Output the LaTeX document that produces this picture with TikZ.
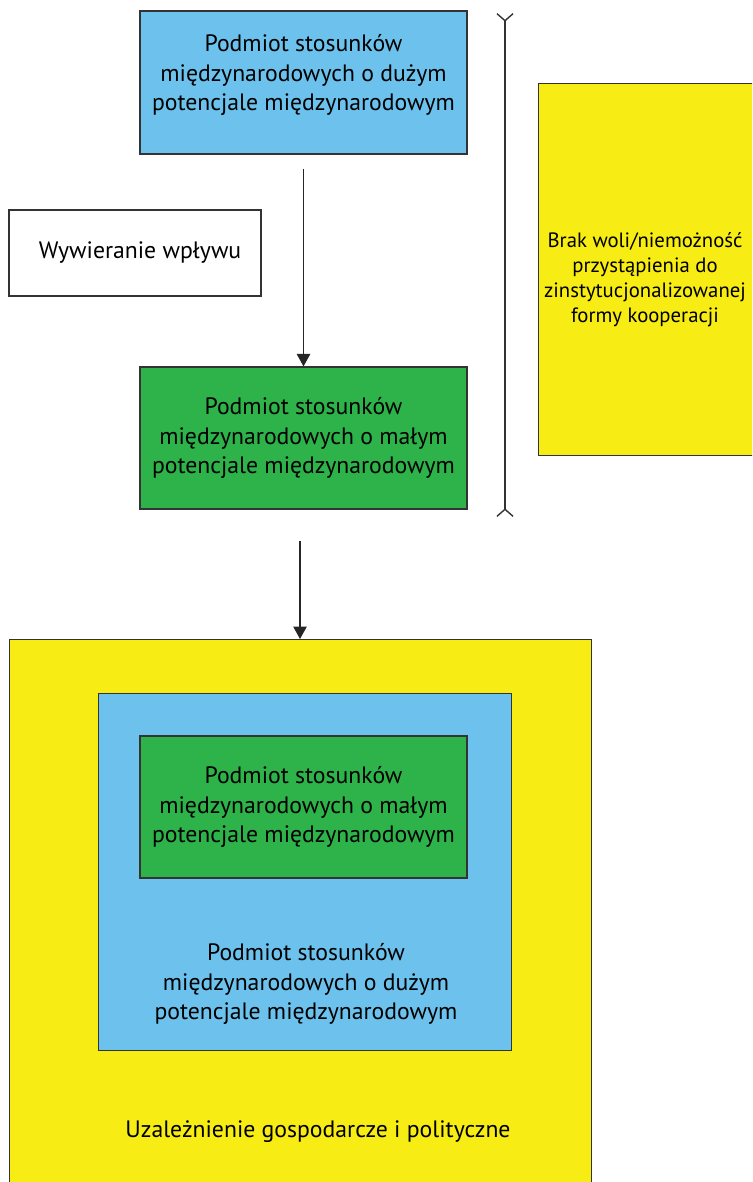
\documentclass[tikz,border=0pt]{standalone}
\usepackage{fontspec}
\setmainfont{PT Sans}
\usetikzlibrary{arrows.meta}
\definecolor{skyblue}{HTML}{6CC2EC}
\definecolor{leafgreen}{HTML}{2DB34A}
\definecolor{lemon}{HTML}{F7EC14}

\begin{document}
\begin{tikzpicture}[x=0.02cm, y=-0.02cm,
  box/.style={draw=black!80, line width=0.7pt, align=center, inner sep=0pt},
  bigtext/.style={font=\fontsize{13.5}{16.6}\selectfont, align=center},
  smalltext/.style={font=\fontsize{11.8}{14.2}\selectfont, align=center},
  pointer/.style={draw=black!85, line width=0.7pt, -{Triangle[length=0.25cm, width=0.27cm]}}]
\clip (0,0) rectangle (752,1182);
\useasboundingbox (0,0) rectangle (752,1182);
\node[box, fill=skyblue, minimum width=6.54cm, minimum height=2.86cm] (bigtop) at (303.5,82.5) {};
\node[bigtext] (bigtoptext) at (303.5,75) {Podmiot stosunków\\ międzynarodowych o dużym\\ potencjale międzynarodowym};
\node[box, fill=white, bigtext, minimum width=5.04cm, minimum height=1.72cm] (influence) at (135,253) {\hspace{0.2cm}Wywieranie wpływu};
\node[box, fill=leafgreen, bigtext, minimum width=6.54cm, minimum height=2.84cm] (smallmid) at (303.5,438) {Podmiot stosunków\\ międzynarodowych o małym\\ potencjale międzynarodowym};
\node[box, fill=lemon, minimum width=4.6cm, minimum height=7.44cm, anchor=north west] (nowill) at (538,83) {};
\node[smalltext] (nowilltext) at (645,280) {Brak woli/niemożność\\ przystąpienia do\\ zinstytucjonalizowanej\\ formy kooperacji};
\draw[pointer] (bigtop.south) ++(0,14) -- (smallmid.north);
\draw[draw=black!80, line width=0.8pt, {Straight Barb[reversed, length=0.14cm, width=0.32cm]}-{Straight Barb[reversed, length=0.14cm, width=0.32cm]}] (505,13) coordinate (spantop) -- (505,517) coordinate (spanbot);
% dependency
\node[box, fill=lemon, minimum width=11.64cm, minimum height=11.4cm, anchor=north west] (depend) at (9,639) {};
\draw[pointer] (300,541) -- (depend.north -| 300,0);
\node[box, fill=skyblue, minimum width=8.26cm, minimum height=7.14cm, anchor=north west] (bigin) at (98,693) {};
\node[box, fill=leafgreen, bigtext, minimum width=6.54cm, minimum height=2.84cm] (smallin) at (303.5,807) {Podmiot stosunków\\ międzynarodowych o małym\\ potencjale międzynarodowym};
\node[bigtext] (bigintext) at (306,984) {Podmiot stosunków\\ międzynarodowych o dużym\\ potencjale międzynarodowym};
\node[bigtext] (dependtext) at (318,1132) {Uzależnienie gospodarcze i polityczne};
\end{tikzpicture}
\end{document}
